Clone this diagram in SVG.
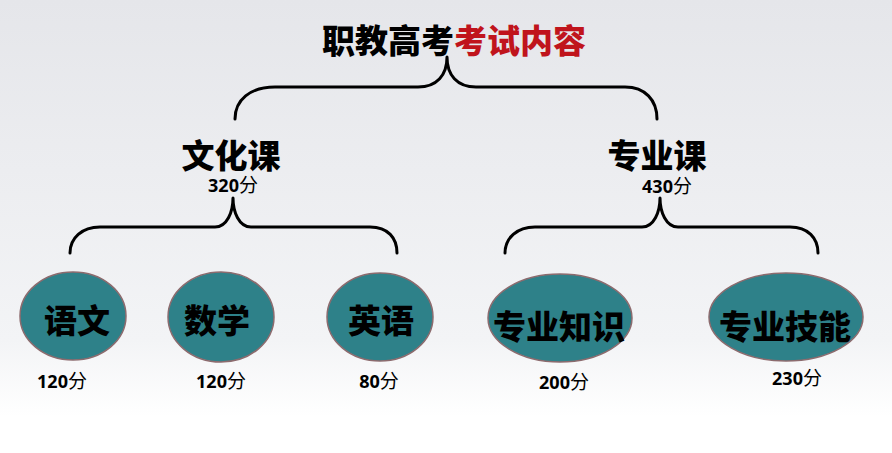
<svg xmlns="http://www.w3.org/2000/svg" width="892" height="453" viewBox="0 0 892 453">
<defs>
<linearGradient id="bg" x1="0" y1="0" x2="0" y2="1">
<stop offset="0" stop-color="#e5e6ea"/>
<stop offset="0.75" stop-color="#f3f4f6"/>
<stop offset="0.92" stop-color="#ffffff"/>
<stop offset="1" stop-color="#ffffff"/>
</linearGradient>
</defs>
<style>
.big{font-family:"Noto Sans CJK SC","Noto Sans",sans-serif;font-weight:900;font-size:33px;text-anchor:middle;fill:#000}
.num{font-family:"Open Sans","Noto Sans CJK SC",sans-serif;font-weight:700;font-size:18px;text-anchor:middle;fill:#000}
.num tspan{font-family:"Noto Sans CJK SC",sans-serif;font-weight:400;font-size:19px}
.node{fill:#2e8189;stroke:#8c6b6e;stroke-width:1.5}
.brace{fill:none;stroke:#000;stroke-width:3;stroke-linecap:round;stroke-linejoin:round}
</style>
<rect width="892" height="453" fill="url(#bg)"/>
<g id="title">
<text class="big" x="454" y="53"><tspan fill="#000">职教高考</tspan><tspan fill="#c0141c">考试内容</tspan></text>
</g>
<g id="connectors">
<path class="brace" d="M235,119 C235,100 250,87 275,87 L418,87 C437,87 447,75 447,57 C447,75 457,87 476,87 L625,87 C645,87 657,100 657,119"/>
<path class="brace" d="M70,253 C70,238 82,227 100,227 L215,227 C227,227 233,212 233,198 C233,212 239,227 251,227 L370,227 C388,227 397,238 397,253"/>
<path class="brace" d="M505,253 C505,238 517,227 535,227 L642,227 C654,227 660,212 660,198 C660,212 666,227 678,227 L790,227 C808,227 818,238 818,253"/>
</g>
<g id="wenhuake">
<text class="big" x="231" y="168">文化课</text>
<text class="num" x="233" y="192">320<tspan>分</tspan></text>
</g>
<g id="zhuanyeke">
<text class="big" x="657" y="168">专业课</text>
<text class="num" x="667" y="193">430<tspan>分</tspan></text>
</g>
<g id="yuwen">
<ellipse class="node" cx="73" cy="316" rx="53" ry="44"/>
<text class="big" x="77" y="333">语文</text>
<text class="num" x="62" y="388">120<tspan>分</tspan></text>
</g>
<g id="shuxue">
<ellipse class="node" cx="221" cy="317" rx="53" ry="45"/>
<text class="big" x="217" y="333">数学</text>
<text class="num" x="221" y="388">120<tspan>分</tspan></text>
</g>
<g id="yingyu">
<ellipse class="node" cx="380" cy="317" rx="53" ry="44"/>
<text class="big" x="381" y="333">英语</text>
<text class="num" x="379" y="388">80<tspan>分</tspan></text>
</g>
<g id="zhuanyezhishi">
<ellipse class="node" cx="560" cy="318" rx="72" ry="44"/>
<text class="big" x="559" y="339">专业知识</text>
<text class="num" x="564" y="389">200<tspan>分</tspan></text>
</g>
<g id="zhuanyejineng">
<ellipse class="node" cx="786" cy="317" rx="77" ry="44"/>
<text class="big" x="785" y="339">专业技能</text>
<text class="num" x="797" y="385">230<tspan>分</tspan></text>
</g>
</svg>
